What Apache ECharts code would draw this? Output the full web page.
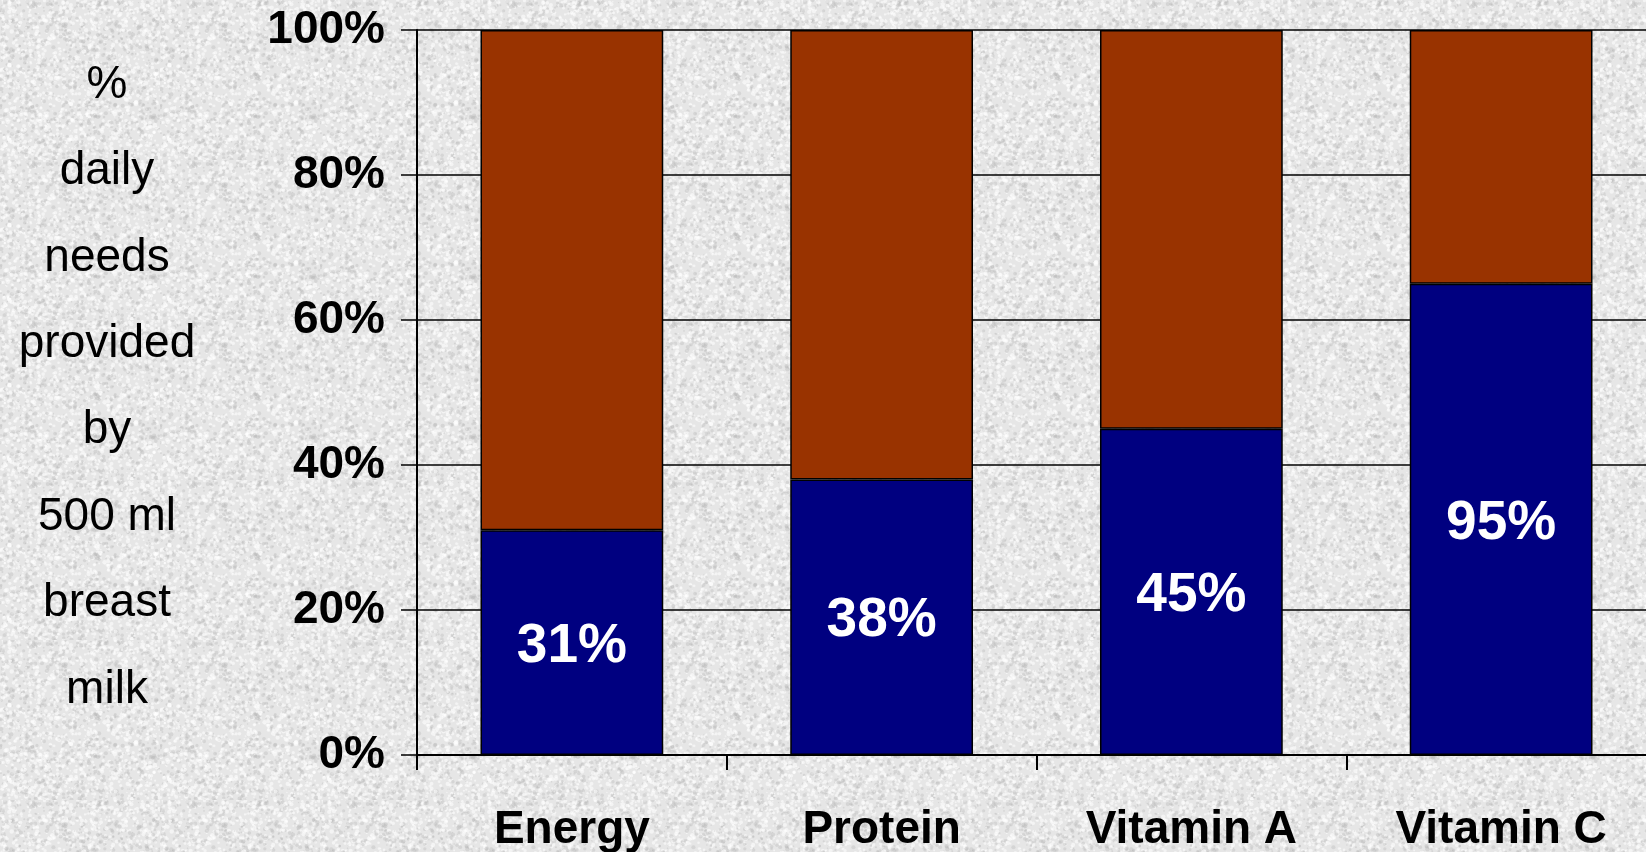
<!DOCTYPE html>
<html>
<head>
<meta charset="utf-8">
<script src="https://cdn.jsdelivr.net/npm/echarts@6/dist/echarts.min.js"></script>
<style>
  html, body { margin: 0; padding: 0; background: #e9e9e9; }
  #chart { width: 1646px; height: 852px; }
</style>
</head>
<body>
<div id="chart"></div>
<script>
// values
var categories = ['Energy', 'Protein', 'Vitamin A', 'Vitamin C'];
var providedValues = [31, 38, 45, 65];   // blue part (height of bar)
var remainderValues = [69, 62, 55, 35];  // brown part up to 100%
var providedLabels = ['31%', '38%', '45%', '95%'];
var yTicks = [0, 20, 40, 60, 80, 100];
var sideTitle = ['%', 'daily', 'needs', 'provided', 'by', '500 ml', 'breast', 'milk'];

var fontFamily = '"Liberation Sans", Arial, Helvetica, sans-serif';

// light grey paper-like texture for the background
function makeTexture() {
    var c = document.createElement('canvas');
    c.width = 160;
    c.height = 160;
    var ctx = c.getContext('2d');
    ctx.fillStyle = '#e6e6e6';
    ctx.fillRect(0, 0, 160, 160);
    var s = 12345;
    function next() {
        s = (s * 1103515245 + 12345) % 2147483648;
        return s / 2147483648;
    }
    for (var i = 0; i < 2600; i++) {
        var x = next() * 160, y = next() * 160, r = 0.6 + next() * 1.6;
        var light = next() < 0.6;
        ctx.fillStyle = light ? 'rgba(255,255,255,0.55)' : 'rgba(180,180,180,0.35)';
        ctx.beginPath();
        ctx.arc(x, y, r, 0, Math.PI * 2);
        ctx.fill();
    }
    return c;
}

var chart = echarts.init(document.getElementById('chart'));

var option = {
    animation: false,
    backgroundColor: { image: makeTexture(), repeat: 'repeat' },
    grid: {
        left: 417,
        top: 30,
        width: 1239,
        height: 725,
        outerBoundsMode: 'none'
    },
    graphic: [
        {
            type: 'text',
            x: 107,
            y: 42,
            style: {
                text: sideTitle.join('\n'),
                fontFamily: fontFamily,
                fontSize: 46,
                lineHeight: 86.4,
                fill: '#000',
                align: 'center',
                verticalAlign: 'top'
            },
            z: 10
        }
    ],
    xAxis: {
        type: 'category',
        data: categories,
        axisLine: { lineStyle: { color: '#000', width: 2 } },
        axisTick: { show: true, length: 15, inside: false, lineStyle: { color: '#000', width: 2 } },
        axisLabel: {
            color: '#000',
            fontFamily: fontFamily,
            fontWeight: 'bold',
            fontSize: 46,
            margin: 52
        },
        splitLine: { show: false }
    },
    yAxis: {
        type: 'value',
        min: yTicks[0],
        max: yTicks[yTicks.length - 1],
        interval: 20,
        axisLine: { show: true, lineStyle: { color: '#000', width: 2 } },
        axisTick: { show: true, length: 16, lineStyle: { color: '#000', width: 1.5 } },
        axisLabel: {
            color: '#000',
            fontFamily: fontFamily,
            fontWeight: 'bold',
            fontSize: 46,
            margin: 32,
            formatter: '{value}%'
        },
        splitLine: { show: true, lineStyle: { color: '#000', width: 1.5 } }
    },
    series: [
        {
            name: 'provided',
            type: 'bar',
            stack: 'total',
            barWidth: '59%',
            data: providedValues,
            itemStyle: { color: '#000080', borderColor: '#000', borderWidth: 1.5 },
            label: {
                show: true,
                position: 'inside',
                offset: [0, 4],
                color: '#fff',
                fontFamily: fontFamily,
                fontWeight: 'bold',
                fontSize: 55,
                formatter: function (p) { return providedLabels[p.dataIndex]; }
            }
        },
        {
            name: 'remainder',
            type: 'bar',
            stack: 'total',
            barWidth: '59%',
            data: remainderValues,
            itemStyle: { color: '#993300', borderColor: '#000', borderWidth: 1.5 }
        }
    ]
};

chart.setOption(option);
</script>
</body>
</html>
